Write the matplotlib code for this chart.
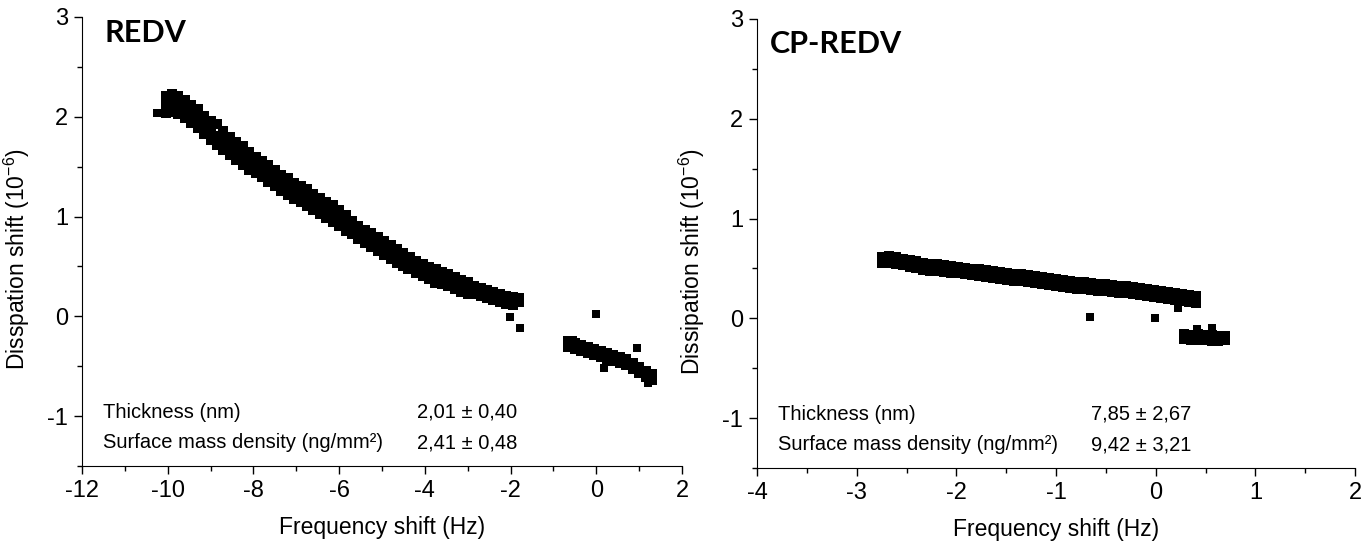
import numpy as np
import matplotlib
matplotlib.use('Agg')
import matplotlib.pyplot as plt
from matplotlib.ticker import MultipleLocator

plt.rcParams['font.family'] = ['Liberation Sans', 'DejaVu Sans']
plt.rcParams['mathtext.fontset'] = 'custom'
plt.rcParams['mathtext.rm'] = 'Liberation Sans'
plt.rcParams['axes.unicode_minus'] = False

# REDV - main band (upper / middle / lower edge of the point cloud)
redv_x = [-10.05, -9.9, -9.75, -9.6, -9.45, -9.3, -9.15, -9.0, -8.85, -8.7, -8.55, -8.4, -8.25, -8.1,
          -7.95, -7.8, -7.65, -7.5, -7.35, -7.2, -7.05, -6.9, -6.75, -6.6, -6.45, -6.3, -6.15, -6.0,
          -5.85, -5.7, -5.55, -5.4, -5.25, -5.1, -4.95, -4.8, -4.65, -4.5, -4.35, -4.2, -4.05, -3.9,
          -3.75, -3.6, -3.45, -3.3, -3.15, -3.0, -2.85, -2.7, -2.55, -2.4, -2.25, -2.1, -1.95, -1.8]
redv_hi = [2.21, 2.23, 2.21, 2.17, 2.12, 2.08, 2.01, 1.96, 1.93, 1.86, 1.80, 1.75, 1.71, 1.65,
           1.60, 1.56, 1.52, 1.47, 1.42, 1.39, 1.34, 1.31, 1.28, 1.23, 1.19, 1.15, 1.12, 1.07,
           1.02, 0.96, 0.91, 0.87, 0.83, 0.79, 0.75, 0.71, 0.67, 0.63, 0.59, 0.55, 0.52, 0.49,
           0.47, 0.44, 0.42, 0.39, 0.36, 0.34, 0.30, 0.28, 0.26, 0.24, 0.22, 0.20, 0.19, 0.18]
redv_mid = [2.13, 2.14, 2.12, 2.08, 2.03, 1.98, 1.92, 1.86, 1.81, 1.76, 1.71, 1.66, 1.61, 1.56,
            1.52, 1.48, 1.43, 1.39, 1.34, 1.30, 1.26, 1.23, 1.19, 1.15, 1.11, 1.07, 1.03, 0.99,
            0.94, 0.89, 0.84, 0.80, 0.76, 0.72, 0.68, 0.64, 0.60, 0.56, 0.53, 0.49, 0.46, 0.43,
            0.41, 0.38, 0.36, 0.33, 0.30, 0.28, 0.26, 0.24, 0.22, 0.20, 0.18, 0.16, 0.15, 0.16]
redv_lo = [2.04, 2.05, 2.03, 1.99, 1.94, 1.89, 1.83, 1.77, 1.72, 1.67, 1.62, 1.57, 1.52, 1.47,
           1.44, 1.40, 1.35, 1.31, 1.26, 1.22, 1.18, 1.15, 1.11, 1.07, 1.03, 0.99, 0.95, 0.91,
           0.86, 0.82, 0.77, 0.73, 0.69, 0.65, 0.61, 0.57, 0.53, 0.50, 0.47, 0.43, 0.40, 0.37,
           0.35, 0.32, 0.30, 0.27, 0.24, 0.22, 0.22, 0.20, 0.18, 0.16, 0.14, 0.12, 0.11, 0.14]
# REDV - second cluster
redv2_x = [-0.65, -0.5, -0.35, -0.2, -0.05, 0.1, 0.25, 0.4, 0.55, 0.7, 0.85, 1.0, 1.15, 1.3]
redv2_hi = [-0.25, -0.27, -0.29, -0.31, -0.33, -0.35, -0.37, -0.39, -0.41, -0.43, -0.47, -0.51, -0.55, -0.58]
redv2_lo = [-0.31, -0.33, -0.35, -0.37, -0.39, -0.41, -0.43, -0.45, -0.47, -0.49, -0.53, -0.57, -0.61, -0.64]
# REDV - isolated points
redv_out_x = [-10.25, -4.42, -3.79, -2.02, -1.79, 0.0, 0.94, 0.17, 1.2, -0.55]
redv_out_y = [2.04, 0.46, 0.32, -0.01, -0.12, 0.02, -0.32, -0.52, -0.67, -0.24]

# CP-REDV - main band
cp_x = [-2.75, -2.68, -2.61, -2.54, -2.47, -2.40, -2.33, -2.26, -2.19, -2.12, -2.05, -1.98, -1.91,
        -1.84, -1.77, -1.70, -1.63, -1.56, -1.49, -1.42, -1.35, -1.28, -1.21, -1.14, -1.07, -1.00,
        -0.93, -0.86, -0.79, -0.72, -0.65, -0.58, -0.51, -0.44, -0.37, -0.30, -0.23, -0.16, -0.09,
        -0.02, 0.05, 0.12, 0.19, 0.26, 0.33, 0.40]
cp_hi = [0.61, 0.62, 0.61, 0.59, 0.58, 0.57, 0.55, 0.54, 0.54, 0.53, 0.52, 0.51, 0.50,
         0.49, 0.49, 0.48, 0.47, 0.46, 0.45, 0.44, 0.44, 0.43, 0.42, 0.41, 0.40, 0.39,
         0.38, 0.37, 0.36, 0.36, 0.35, 0.34, 0.34, 0.33, 0.32, 0.32, 0.31, 0.30, 0.29,
         0.28, 0.27, 0.26, 0.25, 0.24, 0.23, 0.22]
cp_lo = [0.55, 0.55, 0.54, 0.53, 0.51, 0.50, 0.48, 0.47, 0.47, 0.46, 0.45, 0.45, 0.44,
         0.43, 0.42, 0.41, 0.40, 0.39, 0.38, 0.37, 0.37, 0.36, 0.35, 0.34, 0.33, 0.32,
         0.31, 0.30, 0.29, 0.29, 0.28, 0.27, 0.27, 0.26, 0.25, 0.25, 0.24, 0.23, 0.22,
         0.21, 0.20, 0.19, 0.18, 0.17, 0.16, 0.15]
# CP-REDV - second cluster
cp2_x = [0.28, 0.35, 0.42, 0.49, 0.56, 0.63, 0.70]
cp2_hi = [-0.16, -0.17, -0.16, -0.17, -0.17, -0.18, -0.18]
cp2_lo = [-0.21, -0.22, -0.22, -0.22, -0.23, -0.23, -0.22]
cp_out_x = [0.22, -0.66, -0.01, 0.41, 0.56]
cp_out_y = [0.10, 0.01, 0.0, -0.11, -0.10]

ylim = (-1.5, 3)
panels = [
    dict(title='REDV', xlim=(-12, 2), xmaj=2, xmin=1, ylabel='Disspation shift (10$^{-6}$)',
         thick='2,01 ± 0,40', dens='2,41 ± 0,48', title_pos=(0.038, 0.944),
         rect=[0.0601, 0.1434, 0.4395, 0.8254]),
    dict(title='CP-REDV', xlim=(-4, 2), xmaj=1, xmin=0.5, ylabel='Dissipation shift (10$^{-6}$)',
         thick='7,85 ± 2,67', dens='9,42 ± 3,21', title_pos=(0.022, 0.924),
         rect=[0.5546, 0.1397, 0.4381, 0.8254]),
]
bands = [
    [(redv_x, redv_hi), (redv_x, redv_mid), (redv_x, redv_lo), (redv2_x, redv2_hi), (redv2_x, redv2_lo)],
    [(cp_x, cp_hi), (cp_x, cp_lo), (cp2_x, cp2_hi), (cp2_x, cp2_lo)],
]
singles = [(redv_out_x, redv_out_y), (cp_out_x, cp_out_y)]

fig = plt.figure(figsize=(13.65, 5.44), dpi=100)
for p, band, single in zip(panels, bands, singles):
    ax = fig.add_axes(p['rect'])
    for xs, ys in band:
        ax.scatter(xs, ys, marker='s', s=45, c='black', linewidths=0)
    ax.scatter(single[0], single[1], marker='s', s=30, c='black', linewidths=0)
    ax.set_xlim(p['xlim'])
    ax.set_ylim(ylim)
    ax.spines['right'].set_color('none')
    ax.spines['top'].set_color('none')
    ax.xaxis.set_major_locator(MultipleLocator(p['xmaj']))
    ax.xaxis.set_minor_locator(MultipleLocator(p['xmin']))
    ax.yaxis.set_major_locator(MultipleLocator(1))
    ax.yaxis.set_minor_locator(MultipleLocator(0.5))
    ax.tick_params(which='major', direction='out', length=6, width=1, labelsize=17, pad=4)
    ax.tick_params(which='minor', direction='out', length=3.5, width=1)
    ax.set_xlabel('Frequency shift (Hz)', fontsize=16.5)
    ax.set_ylabel(p['ylabel'], fontsize=16.5)
    ax.xaxis.set_label_coords(0.5, -0.112)
    ax.yaxis.set_label_coords(-0.083, 0.46)
    ax.text(p['title_pos'][0], p['title_pos'][1], p['title'], transform=ax.transAxes,
            family=['Lato', 'DejaVu Sans'], fontweight='bold', fontsize=22, va='baseline')
    ax.text(0.035, 0.12, 'Thickness (nm)', transform=ax.transAxes, fontsize=14.5, va='center')
    ax.text(0.035, 0.052, 'Surface mass density (ng/mm²)', transform=ax.transAxes,
            fontsize=14.5, va='center')
    ax.text(0.558, 0.12, p['thick'], transform=ax.transAxes, fontsize=14.5, va='center')
    ax.text(0.558, 0.052, p['dens'], transform=ax.transAxes, fontsize=14.5, va='center')

fig.savefig('out.png', dpi=100)
